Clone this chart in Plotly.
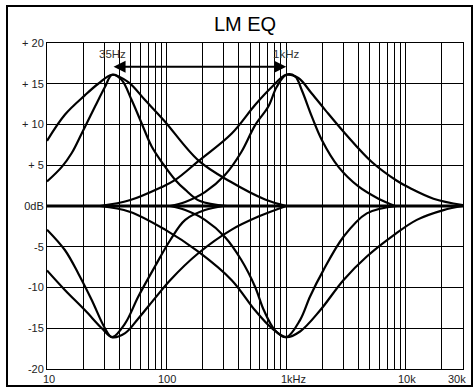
import math
import plotly.graph_objects as go

# ---- data ----
freq_w35_boost = [10, 14.1, 20.8, 26.8, 35, 47.8, 66, 95, 184, 340, 665, 1000]
db_w35_boost   = [8.0, 11.2, 13.6, 15.0, 16.1, 15.2, 13.0, 10.5, 5.6, 3.0, 0.8, 0.0]

freq_n35_boost = [10, 13.3, 16.1, 19.5, 25.2, 30.5, 35, 42, 51, 62, 75, 94, 118, 143, 190, 320]
db_n35_boost   = [3.0, 4.8, 6.5, 8.9, 12.2, 14.6, 16.1, 15.5, 13.0, 10.1, 7.3, 5.1, 3.2, 2.0, 0.6, 0.0]

freq_w1k_boost = [27.7, 49, 90, 118, 184, 350, 548, 757, 1000, 1262, 1633, 2110, 3102, 5190, 8400, 10800, 17000, 30000]
db_w1k_boost   = [0.0, 0.7, 2.3, 3.2, 5.5, 8.9, 12.4, 14.6, 16.1, 15.7, 13.8, 11.8, 8.9, 5.4, 3.1, 2.2, 0.9, 0.1]

freq_n1k_boost = [107, 143, 209, 307, 420, 548, 708, 831, 1000, 1186, 1349, 1633, 1982, 2730, 4010, 5890, 8130]
db_n1k_boost   = [0.0, 0.5, 1.7, 3.8, 6.6, 9.9, 12.2, 14.6, 16.1, 15.9, 14.2, 11.0, 8.1, 4.8, 2.4, 0.9, 0.0]

freq_w35_cut = [10, 14.1, 20.8, 28.7, 35, 45, 58, 80, 107, 184, 350, 585, 1000]
db_w35_cut   = [-7.9, -10.3, -12.8, -15.0, -16.1, -15.6, -13.8, -11.3, -9.1, -5.8, -2.9, -1.3, 0.0]

freq_n35_cut = [10, 14.1, 18.3, 23.6, 30.5, 35, 45, 58, 80, 107, 143, 209, 300]
db_n35_cut   = [-2.9, -5.4, -8.3, -11.5, -15.0, -16.1, -14.4, -11.1, -7.4, -4.2, -1.7, -0.5, 0.0]

freq_w1k_cut = [27.7, 49, 97, 184, 350, 548, 757, 1000, 1303, 1919, 3000, 4710, 7870, 12330, 20600, 30000]
db_w1k_cut   = [0.0, -0.7, -2.9, -5.6, -9.1, -12.8, -15.0, -16.1, -15.4, -12.8, -9.1, -6.2, -3.6, -1.7, -0.5, 0.0]

freq_n1k_cut = [107, 143, 209, 307, 420, 548, 650, 800, 1000, 1303, 1581, 2040, 3000, 4710, 8500]
db_n1k_cut   = [0.0, -0.5, -1.7, -3.8, -6.6, -9.9, -12.8, -15.2, -16.1, -14.0, -11.1, -7.9, -3.8, -0.9, 0.0]

freq_flat = [10, 30000]
db_flat   = [0, 0]

grid_freqs = [10, 20, 30, 40, 50, 60, 70, 80, 90,
              100, 200, 300, 400, 500, 600, 700, 800, 900,
              1000, 2000, 3000, 4000, 5000, 6000, 7000, 8000, 9000,
              10000, 20000, 30000]
x_label_freqs = [10, 100, 1000, 10000, 30000]
x_label_text = ["10", "100", "1kHz", "10k", "30k"]

y_tick_vals = [-20, -15, -10, -5, 0, 5, 10, 15, 20]
y_tick_text = ["-20", "-15", "-10", "-5", "0dB", "+ 5", "+ 10", "+ 15", "+ 20"]

center_freqs = [35, 1000]
center_labels = ["35Hz", "1kHz"]

title_text = "LM EQ"

# ---- figure ----
fig = go.Figure()
curves = [
    (freq_w35_boost, db_w35_boost), (freq_n35_boost, db_n35_boost),
    (freq_w1k_boost, db_w1k_boost), (freq_n1k_boost, db_n1k_boost),
    (freq_w35_cut, db_w35_cut), (freq_n35_cut, db_n35_cut),
    (freq_w1k_cut, db_w1k_cut), (freq_n1k_cut, db_n1k_cut),
]
for fx, fy in curves:
    fig.add_trace(go.Scatter(x=fx, y=fy, mode="lines",
                             line=dict(color="black", width=2.2, shape="spline", smoothing=1.0),
                             showlegend=False, hoverinfo="skip"))
fig.add_trace(go.Scatter(x=freq_flat, y=db_flat, mode="lines",
                         line=dict(color="black", width=3), showlegend=False, hoverinfo="skip"))

font_main = "Liberation Sans, Arial, sans-serif"

fig.update_layout(
    width=474, height=389,
    margin=dict(l=47, r=11, t=43, b=20),
    paper_bgcolor="white", plot_bgcolor="white",
    font=dict(family=font_main, size=11, color="#222"),
    title=dict(text=title_text, x=245 / 474, xanchor="center", y=1 - 24 / 389, yanchor="middle",
               font=dict(family=font_main, size=20, color="black")),
    xaxis=dict(type="log", range=[1, math.log10(30000)],
               tickvals=grid_freqs, ticktext=["" for _ in grid_freqs],
               showgrid=True, gridcolor="black", gridwidth=1,
               showline=True, mirror=True, linecolor="black", linewidth=1,
               ticks="", zeroline=False, automargin=False),
    yaxis=dict(range=[-20, 20], tickvals=y_tick_vals, ticktext=y_tick_text,
               showgrid=True, gridcolor="black", gridwidth=1,
               showline=True, mirror=True, linecolor="black", linewidth=1,
               ticks="", zeroline=False, automargin=False,
               tickfont=dict(family=font_main, size=11, color="#222")),
    shapes=[dict(type="rect", xref="paper", yref="paper",
                 x0=(7 - 47) / 416, x1=(472 - 47) / 416,
                 y0=(369 - 386) / 326, y1=(369 - 6) / 326,
                 line=dict(color="black", width=2), fillcolor="rgba(0,0,0,0)", layer="above")],
)

# x-axis labels as annotations (slight per-label nudges as in the reference)
x_label_shift = [2, 0, 7, 1, -6]
for f, lab, sh in zip(x_label_freqs, x_label_text, x_label_shift):
    fig.add_annotation(x=math.log10(f), y=-10 / 326, xref="x", yref="paper", text=lab,
                       showarrow=False, xanchor="center", yanchor="middle", xshift=sh,
                       font=dict(family=font_main, size=11, color="#222"))

arrow_db = 17.1
label_db = 18.65
for f, lab in zip(center_freqs, center_labels):
    fig.add_annotation(x=math.log10(f), y=label_db, xref="x", yref="y", text=lab,
                       showarrow=False, xanchor="center", yanchor="middle",
                       font=dict(family=font_main, size=11.5, color="#333"))
fig.add_annotation(x=math.log10(center_freqs[1]), y=arrow_db, ax=math.log10(center_freqs[0]), ay=arrow_db,
                   xref="x", yref="y", axref="x", ayref="y", text="", showarrow=True,
                   arrowside="end+start", arrowhead=2, arrowsize=1.2, arrowwidth=2, arrowcolor="black")

fig.write_html("out.html", config={"displayModeBar": False},
               post_script="document.body.style.margin='0';document.body.style.padding='0';"
                           "document.body.style.overflow='hidden';")
